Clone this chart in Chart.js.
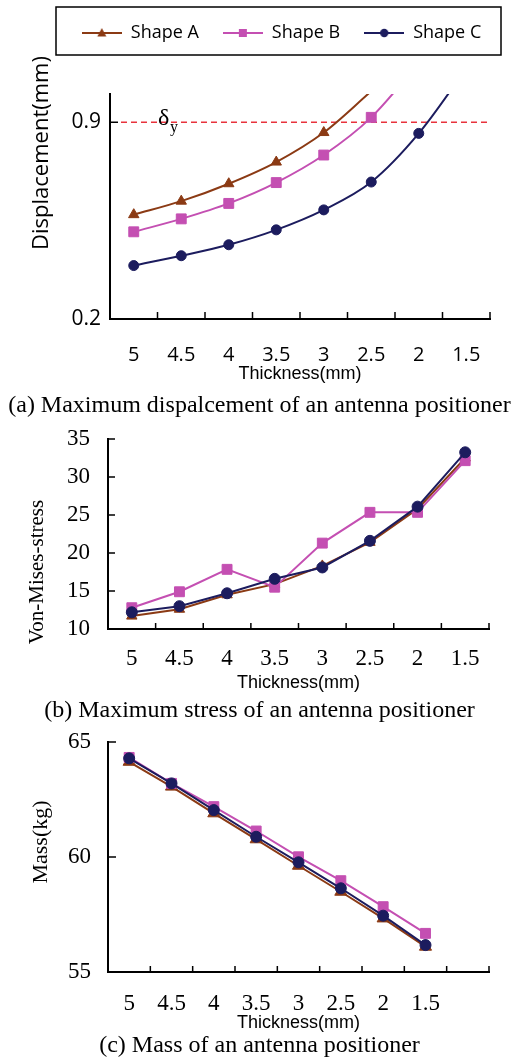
<!DOCTYPE html>
<html><head><meta charset="utf-8">
<script src="https://cdn.jsdelivr.net/npm/chart.js@4.4.1/dist/chart.umd.min.js"></script>
<style>
html,body{margin:0;padding:0;background:#fff;}
#wrap{position:relative;width:511px;height:1064px;overflow:hidden;background:#fff;}
canvas{position:absolute;left:0;}
.cap{position:absolute;left:0;width:519px;text-align:center;font-family:"Liberation Serif","Times New Roman",serif;font-size:24px;line-height:28px;color:#000;white-space:nowrap;}
</style></head><body>
<div id="wrap">
<canvas id="ca" width="511" height="392" style="top:0"></canvas>
<div class="cap" style="top:390px">(a) Maximum dispalcement of an antenna positioner</div>
<canvas id="cb" width="511" height="275" style="top:420px"></canvas>
<div class="cap" style="top:695px">(b) Maximum stress of an antenna positioner</div>
<canvas id="cc" width="511" height="315" style="top:722px"></canvas>
<div class="cap" style="top:1030px">(c) Mass of an antenna positioner</div>
</div>
<script>
// ---------- data ----------
const thickness = ['5','4.5','4','3.5','3','2.5','2','1.5'];
const thicknessC = ['5','4.5','4','3.5','3','2.5','2','1.5',''];
const seriesNames = ['Shape A','Shape B','Shape C'];
// (a) displacement (mm)
const dispA = [0.571, 0.619, 0.681, 0.758, 0.863, 1.01];
const dispB = [0.510, 0.556, 0.611, 0.685, 0.783, 0.917, 1.11];
const dispC = [0.390, 0.425, 0.464, 0.517, 0.588, 0.687, 0.860, 1.09];
const yieldDisp = 0.9;
const dispTicks = [0.2, 0.9];
const dispMin = 0.2, dispMax = 1.0;
// (b) von Mises stress
const stressA = [11.7, 12.6, 14.5, 15.9, 18.3, 21.4, 25.8, 32.5];
const stressB = [12.8, 14.9, 17.85, 15.5, 21.3, 25.35, 25.35, 32.15];
const stressC = [12.2, 13.0, 14.7, 16.6, 18.1, 21.6, 26.1, 33.25];
const stressTicks = [10, 15, 20, 25, 30, 35];
// (c) mass (kg)
const massA = [64.14, 63.06, 61.90, 60.77, 59.62, 58.49, 57.33, 56.10];
const massB = [64.33, 63.20, 62.19, 61.13, 60.01, 58.97, 57.84, 56.68];
const massC = [64.29, 63.20, 62.04, 60.88, 59.77, 58.64, 57.45, 56.17];
const massTicks = [55, 60, 65];

// ---------- styles ----------
const colA = '#8B3A14', colB = '#C44FB2', colC = '#1C1C5E';
const SANS = '"Open Sans", "Noto Sans", sans-serif';
const SERIF = '"Liberation Serif", "Times New Roman", serif';
const ARIAL = '"Liberation Sans", Arial, sans-serif';

function ds(label, data, color, style, radius, order, capMax) {
  return {
    label, data, order,
    borderColor: color, backgroundColor: color,
    pointBackgroundColor: color, pointBorderColor: color,
    pointStyle: style, borderWidth: 2, pointBorderWidth: 1,
    pointRadius: capMax === undefined ? radius : (c => (c.raw > capMax ? 0 : radius)),
    pointHoverRadius: radius,
    fill: false, spanGaps: false
  };
}

function legendIcon(style, color) {
  const c = document.createElement('canvas'); c.width = 40; c.height = 14;
  const g = c.getContext('2d');
  g.strokeStyle = color; g.fillStyle = color; g.lineWidth = 2;
  g.beginPath(); g.moveTo(0, 7); g.lineTo(40, 7); g.stroke();
  g.beginPath();
  if (style === 'triangle') { g.moveTo(20, 2); g.lineTo(24.5, 10.5); g.lineTo(15.5, 10.5); g.closePath(); }
  else if (style === 'rect') { g.rect(16, 3, 8, 8); }
  else { g.arc(20, 7, 4.2, 0, Math.PI * 2); }
  g.fill();
  return c;
}
const icons = [legendIcon('triangle', colA), legendIcon('rect', colB), legendIcon('circle', colC)];

const legendGap = {
  id: 'legendGap',
  beforeLayout(chart, args, opts) {
    const lg = chart.legend;
    if (lg && !lg.$gap) {
      const f = lg.fit;
      lg.fit = function () { f.apply(this, arguments); this.height += (opts.extra || 0); };
      lg.$gap = true;
    }
  }
};
const legendFrame = {
  id: 'legendFrame',
  afterDraw(chart, args, opts) {
    if (!opts.box) return;
    const g = chart.ctx, b = opts.box;
    g.save(); g.strokeStyle = '#000'; g.lineWidth = 1.5;
    g.strokeRect(b[0], b[1], b[2], b[3]); g.restore();
  }
};
const vTitle = {
  id: 'vTitle',
  afterDraw(chart, args, opts) {
    if (!opts.text) return;
    const g = chart.ctx;
    g.save(); g.translate(opts.x, opts.y); g.rotate(-Math.PI / 2);
    g.font = opts.font; g.fillStyle = '#000'; g.textAlign = 'center'; g.textBaseline = 'middle';
    g.fillText(opts.text, 0, 0); g.restore();
  }
};
// tick marks pointing into the plot, placed from the library's scales
const innerTicks = {
  id: 'innerTicks',
  afterDraw(chart, args, opts) {
    const g = chart.ctx, a = chart.chartArea, xs = chart.scales.x, ys = chart.scales.y;
    const n = xs.getLabels().length;
    const step = xs.getPixelForValue(1) - xs.getPixelForValue(0);
    g.save(); g.strokeStyle = '#000'; g.lineWidth = 1.5; g.beginPath();
    for (let i = 0; i <= n; i++) {
      const px = xs.getPixelForValue(i) - step / 2;
      g.moveTo(px, a.bottom); g.lineTo(px, a.bottom - opts.x);
    }
    ys.ticks.forEach(t => {
      const py = ys.getPixelForValue(t.value);
      g.moveTo(a.left, py); g.lineTo(a.left + opts.y, py);
    });
    g.stroke(); g.restore();
  }
};
const refLine = {
  id: 'refLine',
  beforeDatasetsDraw(chart, args, opts) {
    if (opts.value === undefined) return;
    const g = chart.ctx, a = chart.chartArea, y = chart.scales.y.getPixelForValue(opts.value);
    g.save(); g.strokeStyle = '#E8323C'; g.lineWidth = 1.5; g.setLineDash([6, 4]);
    g.beginPath(); g.moveTo(a.left + 11, y); g.lineTo(a.right, y); g.stroke(); g.restore();
  },
  afterDatasetsDraw(chart, args, opts) {
    if (opts.value === undefined) return;
    const g = chart.ctx, a = chart.chartArea, y = chart.scales.y.getPixelForValue(opts.value);
    g.save(); g.fillStyle = '#000'; g.textBaseline = 'alphabetic'; g.textAlign = 'left';
    g.font = '24px ' + SERIF; g.fillText('\u03B4', a.left + 48, y + 3);
    g.font = '16px ' + SERIF; g.fillText('y', a.left + 60, y + 10);
    g.restore();
  }
};

function xScale(labels, fontFamily, fontSize, pad, height, titlePad) {
  return {
    type: 'category', labels, offset: true,
    grid: { display: false, drawOnChartArea: false, drawTicks: false, offset: true },
    border: { display: true, color: '#000', width: 2 },
    ticks: { color: '#000', font: { family: fontFamily, size: fontSize }, padding: pad, maxRotation: 0, autoSkip: false },
    title: { display: true, text: 'Thickness(mm)', color: '#000', font: { family: ARIAL, size: 18 }, padding: { top: 0, bottom: titlePad } },
    afterFit: s => { s.height = height; }
  };
}
function yScale(min, max, tickVals, fontFamily, fontSize, pad, width, fmt) {
  return {
    type: 'linear', min, max,
    afterBuildTicks: s => { s.ticks = tickVals.map(v => ({ value: v })); },
    grid: { display: false, drawOnChartArea: false, drawTicks: false },
    border: { display: true, color: '#000', width: 2 },
    ticks: { color: '#000', font: { family: fontFamily, size: fontSize }, padding: pad, callback: fmt },
    afterFit: s => { s.width = width; s.paddingTop = 0; s.paddingBottom = 0; }
  };
}
const common = { responsive: false, animation: false, devicePixelRatio: 1, events: [] };

// ---------- (a) ----------
new Chart(document.getElementById('ca'), {
  type: 'line',
  data: {
    labels: thickness,
    datasets: [
      ds(seriesNames[0], dispA, colA, 'triangle', 6, 3, dispMax),
      ds(seriesNames[1], dispB, colB, 'rect', 7, 2, dispMax),
      ds(seriesNames[2], dispC, colC, 'circle', 5, 1, dispMax)
    ].map(d => Object.assign(d, { cubicInterpolationMode: 'monotone', capBezierPoints: false }))
  },
  options: Object.assign({}, common, {
    layout: { padding: { left: 52, right: 0, top: 0, bottom: 0 } },
    plugins: {
      legend: {
        display: true, position: 'top',
        labels: {
          usePointStyle: true, pointStyleWidth: 40, padding: 24, color: '#000',
          font: { family: SANS, size: 18 },
          sort: (a, b) => a.datasetIndex - b.datasetIndex,
          generateLabels: chart => Chart.defaults.plugins.legend.labels.generateLabels(chart)
            .map(l => Object.assign(l, { pointStyle: icons[l.datasetIndex], fontColor: '#000' }))
        }
      },
      tooltip: { enabled: false },
      legendGap: { extra: 42 },
      legendFrame: { box: [56, 7, 445, 48] },
      vTitle: { text: 'Displacement(mm)', x: 42, y: 153, font: '22px ' + SANS },
      innerTicks: { x: 7, y: 8 },
      refLine: { value: yieldDisp }
    },
    scales: {
      x: xScale(thickness, SANS, 20, 24, 73, 7),
      y: yScale(dispMin, dispMax, dispTicks, SANS, 21, 9, 58, v => v.toFixed(1)),
      yR: { type: 'linear', position: 'right', display: true, grid: { display: false }, ticks: { display: false }, border: { display: false }, afterFit: s => { s.width = 21; } }
    }
  }),
  plugins: [legendGap, legendFrame, vTitle, innerTicks, refLine]
});

// ---------- (b) ----------
new Chart(document.getElementById('cb'), {
  type: 'line',
  data: {
    labels: thickness,
    datasets: [
      ds(seriesNames[0], stressA, colA, 'triangle', 6, 3),
      ds(seriesNames[1], stressB, colB, 'rect', 7, 2),
      ds(seriesNames[2], stressC, colC, 'circle', 5.5, 1)
    ].map(d => Object.assign(d, { tension: 0 }))
  },
  options: Object.assign({}, common, {
    layout: { padding: { left: 0, right: 22, top: 19, bottom: 0 } },
    plugins: {
      legend: { display: false }, tooltip: { enabled: false },
      vTitle: { text: 'Von-Mises-stress', x: 37, y: 152, font: '21px ' + SERIF },
      innerTicks: { x: 6, y: 7 }
    },
    scales: {
      x: xScale(thickness, SERIF, 23, 16, 66, 1),
      y: yScale(10, 35, stressTicks, SERIF, 23, 18, 108, v => String(v))
    }
  }),
  plugins: [vTitle, innerTicks]
});

// ---------- (c) ----------
new Chart(document.getElementById('cc'), {
  type: 'line',
  data: {
    labels: thicknessC,
    datasets: [
      ds(seriesNames[0], massA, colA, 'triangle', 7, 3),
      ds(seriesNames[1], massB, colB, 'rect', 7, 2),
      ds(seriesNames[2], massC, colC, 'circle', 5.5, 1)
    ].map(d => Object.assign(d, { tension: 0 }))
  },
  options: Object.assign({}, common, {
    layout: { padding: { left: 0, right: 22, top: 20, bottom: 0 } },
    plugins: {
      legend: { display: false }, tooltip: { enabled: false },
      vTitle: { text: 'Mass(kg)', x: 41, y: 120, font: '22px ' + SERIF },
      innerTicks: { x: 6, y: 8 }
    },
    scales: {
      x: xScale(thicknessC, SERIF, 23, 18, 65, 3),
      y: yScale(55, 65, massTicks, SERIF, 23, 17, 108, v => String(v))
    }
  }),
  plugins: [vTitle, innerTicks]
});
</script>
</body></html>
